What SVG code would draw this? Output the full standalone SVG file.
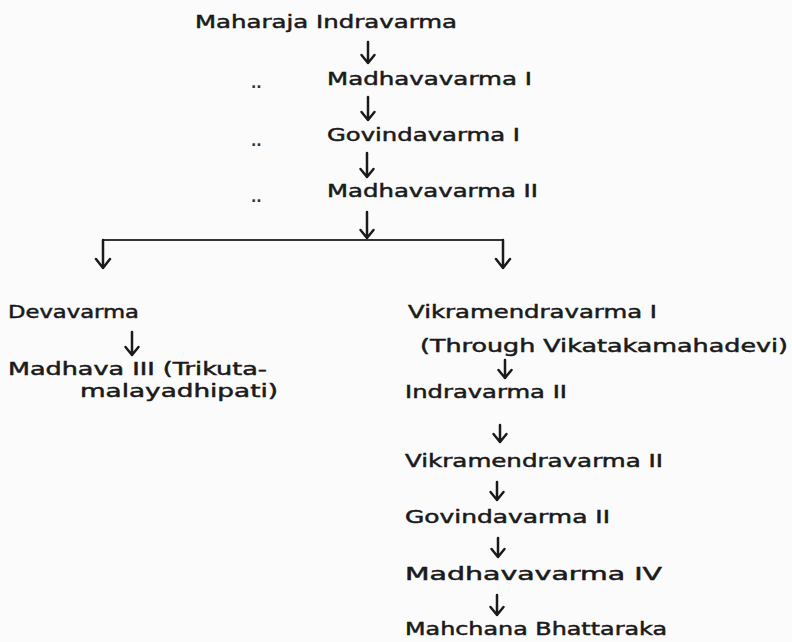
<svg xmlns="http://www.w3.org/2000/svg" width="792" height="642" viewBox="0 0 792 642">
<style>
.t{font-family:"DejaVu Sans","Liberation Sans",sans-serif;font-size:18.5px;fill:#1a1a1a;stroke:#1a1a1a;stroke-width:0.5}
.d{font-family:"DejaVu Sans","Liberation Sans",sans-serif;font-size:14px;fill:#333;font-weight:bold}
.c{fill:none;stroke:#1a1a1a;stroke-width:2.5;stroke-linecap:round;stroke-linejoin:round}
.h{fill:none;stroke:#333;stroke-width:2}
</style>
<rect width="792" height="642" fill="#fbfbfb"/>
<g id="n1"><text class="t" x="195" y="28" textLength="262" lengthAdjust="spacingAndGlyphs">Maharaja  Indravarma</text></g>
<g id="n2"><text class="d" x="251" y="88">..</text><text class="t" x="327" y="85" textLength="205" lengthAdjust="spacingAndGlyphs">Madhavavarma  I</text></g>
<g id="n3"><text class="d" x="251" y="146">..</text><text class="t" x="327" y="141" textLength="193" lengthAdjust="spacingAndGlyphs">Govindavarma  I</text></g>
<g id="n4"><text class="d" x="251" y="202">..</text><text class="t" x="327" y="197" textLength="211" lengthAdjust="spacingAndGlyphs">Madhavavarma  II</text></g>
<g id="n5"><text class="t" x="8" y="318" textLength="131" lengthAdjust="spacingAndGlyphs">Devavarma</text></g>
<g id="n6"><text class="t" x="8" y="375" textLength="259" lengthAdjust="spacingAndGlyphs">Madhava  III  (Trikuta-</text><text class="t" x="80" y="397" textLength="198" lengthAdjust="spacingAndGlyphs">malayadhipati)</text></g>
<g id="n7"><text class="t" x="408" y="318" textLength="249" lengthAdjust="spacingAndGlyphs">Vikramendravarma  I</text><text class="t" x="420" y="352" textLength="368" lengthAdjust="spacingAndGlyphs">(Through  Vikatakamahadevi)</text></g>
<g id="n8"><text class="t" x="405" y="398" textLength="162" lengthAdjust="spacingAndGlyphs">Indravarma  II</text></g>
<g id="n9"><text class="t" x="405" y="467" textLength="258" lengthAdjust="spacingAndGlyphs">Vikramendravarma  II</text></g>
<g id="n10"><text class="t" x="405" y="523" textLength="205" lengthAdjust="spacingAndGlyphs">Govindavarma  II</text></g>
<g id="n11"><text class="t" x="405" y="580" textLength="257" lengthAdjust="spacingAndGlyphs">Madhavavarma  IV</text></g>
<g id="n12"><text class="t" x="405" y="635" textLength="262" lengthAdjust="spacingAndGlyphs">Mahchana  Bhattaraka</text></g>
<g id="connectors">
<path class="h" d="M103 240H503"/>
<path class="c" d="M368 42V63M361.5 55L368 63L374.5 55"/>
<path class="c" d="M368 97V120M361.5 112L368 120L374.5 112"/>
<path class="c" d="M367 153V177M360.5 169L367 177L373.5 169"/>
<path class="c" d="M367 212V238M360.5 230L367 238L373.5 230"/>
<path class="c" d="M103 240V268M96 259L103 268L110 259"/>
<path class="c" d="M503 240V268M496 259L503 268L510 259"/>
<path class="c" d="M132 332V355M125.5 347L132 355L138.5 347"/>
<path class="c" d="M505 360V378M498.5 370L505 378L511.5 370"/>
<path class="c" d="M500 425V442M493.5 434L500 442L506.5 434"/>
<path class="c" d="M497 482V500M490.5 492L497 500L503.5 492"/>
<path class="c" d="M498 538V557M491.5 549L498 557L504.5 549"/>
<path class="c" d="M497 595V615M490.5 607L497 615L503.5 607"/>
</g>
</svg>
